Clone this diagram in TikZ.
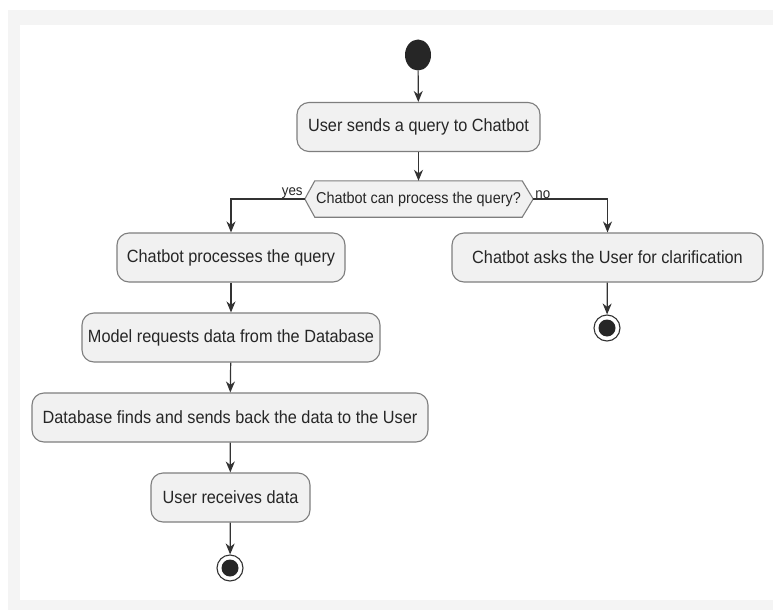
\documentclass[tikz,border=0pt]{standalone}
\usepackage{fontspec}
\setmainfont{Liberation Sans}[FakeStretch=0.92]
\usetikzlibrary{arrows.meta,calc,shapes.geometric}
\definecolor{boxfill}{HTML}{F1F1F1}
\definecolor{boxline}{HTML}{7E7E7E}
\definecolor{conn}{HTML}{333333}
\definecolor{frame}{HTML}{F4F4F4}
\definecolor{txt}{HTML}{262626}
\tikzset{
  act/.style={draw=boxline, line width=1.1pt, fill=boxfill, rounded corners=12pt,
    minimum height=49pt, inner xsep=0pt, text=txt, font=\fontsize{17.7}{20}\selectfont},
  decbox/.style={minimum width=207pt, minimum height=36pt, inner sep=0pt, text=txt,
    font=\fontsize{15.7}{18}\selectfont},
  lbl/.style={inner sep=1pt, text=txt, font=\fontsize{14.5}{17}\selectfont},
  flow/.style={draw=conn, line width=1.2pt, -{Stealth[length=11pt,width=9pt,inset=3.5pt]}},
  startdot/.style={fill=black!85, draw=none, ellipse, minimum width=26pt, minimum height=31pt, inner sep=0pt},
  endring/.style={circle, draw=conn, line width=1.1pt, fill=white, minimum size=26pt, inner sep=0pt},
}
\begin{document}
\begin{tikzpicture}[x=1pt,y=-1pt]
\useasboundingbox (0,0) rectangle (773,610);
\fill[white] (0,0) rectangle (773,610);
\fill[frame] (8,10) rectangle (773,610);
\fill[white] (20,25) rectangle (773,600);

\node[startdot] (start) at (418,55) {};
\node[act, minimum width=243pt] (b1) at (418.5,127) {User sends a query to Chatbot};
\node[decbox] (dec) at (418.5,199) {};
\coordinate (decL) at ($(dec.west)+(-10,0)$);
\coordinate (decR) at ($(dec.east)+(11,0)$);
\filldraw[draw=boxline, line width=1.1pt, fill=boxfill]
  (dec.north west) -- (dec.north east) -- (decR) -- (dec.south east)
  -- (dec.south west) -- (decL) -- cycle;
\node[decbox] (dectext) at (dec) {Chatbot can process the query?};

\node[act, minimum width=228pt] (b2) at (231,257.5) {Chatbot processes the query};
\node[act, minimum width=311pt] (b6) at (607.5,257.5) {Chatbot asks the User for clarification};
\node[endring] (endR) at (607,328) {};
\fill[black!85] (endR) circle (8.5pt);
\node[act, minimum width=298pt] (b3) at (231,337.5) {Model requests data from the Database};
\node[act, minimum width=396pt] (b4) at (230,417.5) {Database finds and sends back the data to the User};
\node[act, minimum width=159pt] (b5) at (230.5,497.5) {User receives data};
\node[endring] (endL) at (230,568) {};
\fill[black!85] (endL) circle (8.5pt);

\node[lbl, anchor=south east] (yes) at ($(decL)+(-1,1)$) {yes};
\node[lbl, anchor=south west] (no) at ($(decR)+(1,1)$) {no};

\draw[flow] (start) -- (b1);
\draw[flow] (b1) -- (dec.north);
\draw[flow] (decL) -| (b2.north);
\draw[flow] (decR) -| (b6.north);
\draw[flow] (b6) -- (endR);
\draw[flow] (b2) -- (b3);
\draw[flow] (b3) -- (b4);
\draw[flow] (b4) -- (b5);
\draw[flow] (b5) -- (endL);
\end{tikzpicture}
\end{document}
